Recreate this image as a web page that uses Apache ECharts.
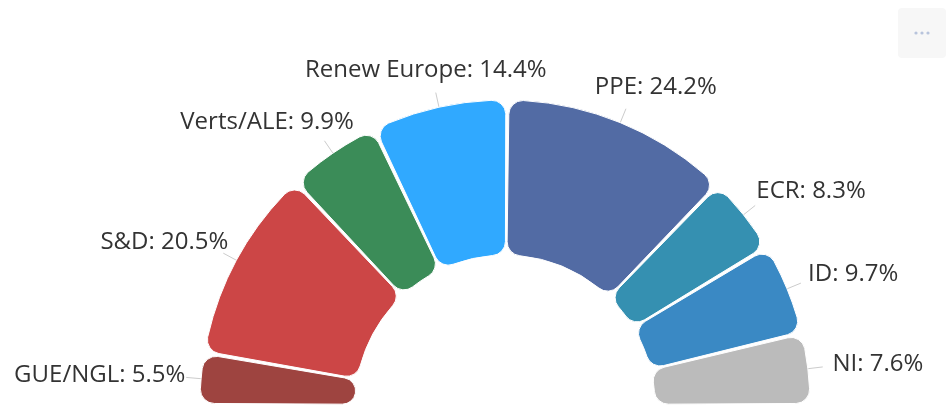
<!DOCTYPE html>
<html>
<head>
<meta charset="utf-8">
<script src="https://cdn.jsdelivr.net/npm/echarts@6/dist/echarts.min.js"></script>
<style>
html,body{margin:0;padding:0;background:#fff;}
#chart{width:947px;height:410px;}
</style>
</head>
<body>
<div id="chart"></div>
<script>
const categories = ['GUE/NGL', 'S&D', 'Verts/ALE', 'Renew Europe', 'PPE', 'ECR', 'ID', 'NI'];
const values = [5.5, 20.5, 9.9, 14.4, 24.2, 8.3, 9.7, 7.6];
const colors = ['#9e4440', '#cc4646', '#3b8c58', '#30a9ff', '#526ba4', '#3590b1', '#3a89c4', '#bbbbbb'];

const CX = 505, CY = 405, R_IN = 150, R_OUT = 305;
const CONNECTOR = 15;       // radial connector length
const LABEL_RY = 343;       // vertical radius of label centres
const LABEL_RX_LEFT = 321;  // horizontal circle for left labels
const LABEL_RX_RIGHT = 330; // horizontal circle for right labels

const data = categories.map((name, i) => ({
  name: name,
  value: values[i],
  itemStyle: { color: colors[i] }
}));

const total = values.reduce((a, b) => a + b, 0);
function midAngle(idx) {
  let before = 0;
  for (let i = 0; i < idx; i++) before += values[i];
  const a0 = 180 - before / total * 180;
  const a1 = a0 - values[idx] / total * 180;
  return (a0 + a1) / 2 * Math.PI / 180;
}

const chart = echarts.init(document.getElementById('chart'), null, { renderer: 'canvas' });
chart.setOption({
  animation: false,
  backgroundColor: '#ffffff',
  series: [{
    type: 'pie',
    center: [CX, CY],
    radius: [R_IN, R_OUT],
    startAngle: 180,
    endAngle: 0,
    padAngle: 0.6,
    clockwise: true,
    data: data,
    itemStyle: { borderRadius: 14, borderColor: '#ffffff', borderWidth: 1 },
    label: {
      show: true,
      formatter: p => p.name + ': ' + p.value + '%',
      fontFamily: 'Open Sans',
      fontSize: 24,
      color: '#333333',
      overflow: 'none',
      width: 400
    },
    labelLine: {
      show: true,
      length: 15,
      length2: 0,
      lineStyle: { color: '#cccccc', width: 1 }
    },
    labelLayout: function (params) {
      const a = midAngle(params.dataIndex);
      const c = Math.cos(a), s = Math.sin(a);
      const p0 = [CX + R_OUT * c, CY - R_OUT * s];
      const p1 = [CX + (R_OUT + CONNECTOR) * c, CY - (R_OUT + CONNECTOR) * s];
      const dy = LABEL_RY * s;
      const y = CY - dy;
      const right = c >= 0;
      const RX = right ? LABEL_RX_RIGHT : LABEL_RX_LEFT;
      let x, align;
      if (dy > RX * 0.97) {
        x = p1[0] - 10;
        align = 'center';
      } else {
        const w = Math.sqrt(Math.max(0, RX * RX - dy * dy));
        x = right ? CX + w : CX - w;
        align = right ? 'left' : 'right';
      }
      return {
        x: x,
        y: y,
        align: align,
        verticalAlign: 'middle',
        labelLinePoints: [p0, p1, p1]
      };
    }
  }],
  graphic: [{
    type: 'group',
    left: 898,
    top: 8,
    children: [
      { type: 'rect', shape: { x: 0, y: 0, width: 48, height: 50, r: 4 }, style: { fill: '#f7f7f7' } },
      { type: 'circle', shape: { cx: 18, cy: 25, r: 1.6 }, style: { fill: '#b8c4dc' } },
      { type: 'circle', shape: { cx: 24, cy: 25, r: 1.6 }, style: { fill: '#b8c4dc' } },
      { type: 'circle', shape: { cx: 30, cy: 25, r: 1.6 }, style: { fill: '#b8c4dc' } }
    ]
  }]
});
</script>
</body>
</html>
